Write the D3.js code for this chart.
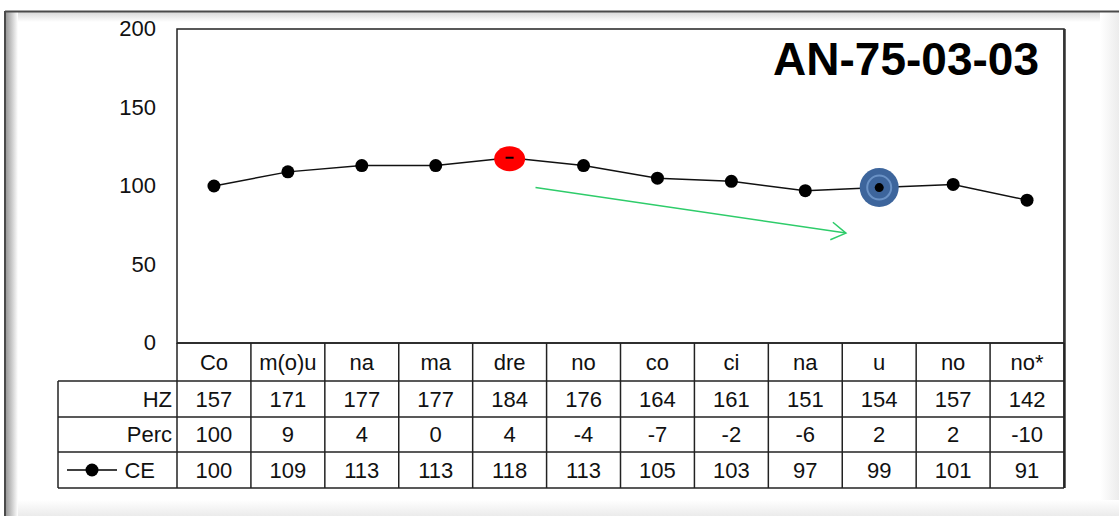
<!DOCTYPE html>
<html>
<head>
<meta charset="utf-8">
<script src="https://cdn.jsdelivr.net/npm/d3@7"></script>
<style>
    html, body { margin: 0; padding: 0; background: #fff; }
    svg { display: block; font-family: Arial, "Liberation Sans", sans-serif; }
</style>
</head>
<body>
<div id="chart"></div>
<script>
// data
const categories = ["Co", "m(o)u", "na", "ma", "dre", "no", "co", "ci", "na", "u", "no", "no*"];
const hzValues = [157, 171, 177, 177, 184, 176, 164, 161, 151, 154, 157, 142];
const percValues = [100, 9, 4, 0, 4, -4, -7, -2, -6, 2, 2, -10];
const ceValues = [100, 109, 113, 113, 118, 113, 105, 103, 97, 99, 101, 91];
const yTicks = [0, 50, 100, 150, 200];
const rowNames = ["HZ", "Perc", "CE"];
const chartTitle = "AN-75-03-03";
const highIndex = 4;   // red marker
const lowIndex = 9;    // blue marker
// arrow annotation, [category position, value]
const arrowFrom = [4.35, 99];
const arrowTo = [8.55, 70];

function init() {
    const w = 1119;
    const h = 516;

    const plotLeft = 177, plotRight = 1064, plotTop = 29, plotBottom = 343;
    const rowEdges = [343, 381, 417, 452, 488];
    const tableLeft = 58;

    const svg = d3.select("#chart")
        .append("svg")
        .attr("width", w)
        .attr("height", h);

    const defs = svg.append("defs");
    // shadowy frame round the whole thing
    const gLeft = defs.append("linearGradient").attr("id", "shadeLeft");
    gLeft.append("stop").attr("offset", "0%").attr("stop-color", "#9a9a9a");
    gLeft.append("stop").attr("offset", "100%").attr("stop-color", "#ffffff");
    const gTop = defs.append("linearGradient").attr("id", "shadeTop")
        .attr("x1", "0%").attr("x2", "0%").attr("y1", "0%").attr("y2", "100%");
    gTop.append("stop").attr("offset", "0%").attr("stop-color", "#d8d8d8");
    gTop.append("stop").attr("offset", "100%").attr("stop-color", "#ffffff");
    const gRight = defs.append("linearGradient").attr("id", "shadeRight");
    gRight.append("stop").attr("offset", "0%").attr("stop-color", "#ffffff");
    gRight.append("stop").attr("offset", "100%").attr("stop-color", "#ececec");
    const gBottom = defs.append("linearGradient").attr("id", "shadeBottom")
        .attr("x1", "0%").attr("x2", "0%").attr("y1", "0%").attr("y2", "100%");
    gBottom.append("stop").attr("offset", "0%").attr("stop-color", "#ffffff");
    gBottom.append("stop").attr("offset", "100%").attr("stop-color", "#ebebeb");

    svg.append("rect").attr("x", 6).attr("y", 12).attr("width", w).attr("height", 10)
        .attr("fill", "url(#shadeTop)");
    svg.append("rect").attr("x", 1100).attr("y", 12).attr("width", 19).attr("height", h)
        .attr("fill", "url(#shadeRight)");
    svg.append("rect").attr("x", 6).attr("y", 500).attr("width", w).attr("height", 16)
        .attr("fill", "url(#shadeBottom)");
    svg.append("rect").attr("x", 6).attr("y", 12).attr("width", 12).attr("height", h)
        .attr("fill", "url(#shadeLeft)");
    svg.append("line").attr("x1", 5).attr("x2", w).attr("y1", 11.5).attr("y2", 11.5)
        .attr("stroke", "#4a4a4a").attr("stroke-width", 2);
    svg.append("line").attr("x1", 5).attr("x2", 5).attr("y1", 11).attr("y2", h)
        .attr("stroke", "#4a4a4a").attr("stroke-width", 2);

    const x = d3.scaleBand()
        .domain(d3.range(categories.length))
        .range([plotLeft, plotRight]);

    const y = d3.scaleLinear()
        .domain([0, 200])
        .range([plotBottom, plotTop]);

    // continuous position along categories, for the arrow
    const xPos = i => x(0) + x.bandwidth() * (i + 0.5);

    // plot box
    svg.append("rect")
        .attr("x", plotLeft).attr("y", plotTop)
        .attr("width", plotRight - plotLeft).attr("height", plotBottom - plotTop)
        .attr("fill", "#fff")
        .attr("stroke", "#222").attr("stroke-width", 1.5);
    svg.append("line").attr("x1", plotRight + 0.5).attr("x2", plotRight + 0.5)
        .attr("y1", plotTop).attr("y2", rowEdges[4])
        .attr("stroke", "#333").attr("stroke-width", 2.5);

    // y tick labels
    const yAxis = d3.axisLeft(y).tickValues(yTicks).tickSize(0).tickPadding(0);
    const yG = svg.append("g")
        .attr("transform", "translate(156,0)")
        .call(yAxis);
    yG.select(".domain").remove();
    yG.selectAll("text")
        .attr("font-size", 22)
        .attr("font-family", "Arial, 'Liberation Sans', sans-serif")
        .attr("fill", "#111")
        .attr("dy", "0.3em");

    // title
    svg.append("text")
        .attr("x", 1039).attr("y", 75)
        .attr("text-anchor", "end")
        .attr("font-size", 46)
        .attr("font-weight", "bold")
        .attr("fill", "#000")
        .text(chartTitle);

    // line
    const line = d3.line()
        .x((d, i) => x(i) + x.bandwidth() / 2)
        .y(d => y(d));

    svg.append("path")
        .datum(ceValues)
        .attr("d", line)
        .attr("fill", "none")
        .attr("stroke", "#111")
        .attr("stroke-width", 1.5);

    svg.selectAll(".dot")
        .data(ceValues)
        .enter()
        .append("circle")
        .attr("class", "dot")
        .attr("cx", (d, i) => x(i) + x.bandwidth() / 2)
        .attr("cy", d => y(d))
        .attr("r", 6.5)
        .attr("fill", "#000");

    // red marker on the highest point
    const hx = x(highIndex) + x.bandwidth() / 2;
    const hy = y(ceValues[highIndex]);
    svg.append("ellipse")
        .attr("cx", hx).attr("cy", hy + 1)
        .attr("rx", 15.5).attr("ry", 12.5)
        .attr("fill", "#ff0000");
    svg.append("line")
        .attr("x1", hx - 4).attr("x2", hx + 4)
        .attr("y1", hy).attr("y2", hy)
        .attr("stroke", "#000").attr("stroke-width", 2);

    // blue marker
    const lx = x(lowIndex) + x.bandwidth() / 2;
    const ly = y(ceValues[lowIndex]);
    svg.append("circle").attr("cx", lx).attr("cy", ly).attr("r", 19.5).attr("fill", "#3d659c");
    svg.append("circle").attr("cx", lx).attr("cy", ly).attr("r", 12)
        .attr("fill", "none").attr("stroke", "#6a92c6").attr("stroke-width", 2);
    svg.append("circle").attr("cx", lx).attr("cy", ly).attr("r", 4.5).attr("fill", "#000");

    // green arrow
    const ax1 = xPos(arrowFrom[0]), ay1 = y(arrowFrom[1]);
    const ax2 = xPos(arrowTo[0]), ay2 = y(arrowTo[1]);
    const ang = Math.atan2(ay2 - ay1, ax2 - ax1);
    const head = 17, spread = 0.55;
    svg.append("line")
        .attr("x1", ax1).attr("y1", ay1).attr("x2", ax2).attr("y2", ay2)
        .attr("stroke", "#2ecc6a").attr("stroke-width", 1.5);
    svg.append("path")
        .attr("d", "M" + (ax2 - head * Math.cos(ang - spread)) + "," + (ay2 - head * Math.sin(ang - spread)) +
            "L" + ax2 + "," + ay2 +
            "L" + (ax2 - head * Math.cos(ang + spread)) + "," + (ay2 - head * Math.sin(ang + spread)))
        .attr("fill", "none")
        .attr("stroke", "#2ecc6a").attr("stroke-width", 1.5);

    // data table
    const table = svg.append("g");
    const rows = [hzValues, percValues, ceValues];

    // category row
    categories.forEach(function (c, i) {
        table.append("text")
            .attr("x", x(i) + x.bandwidth() / 2)
            .attr("y", (rowEdges[0] + rowEdges[1]) / 2)
            .attr("dy", "0.36em")
            .attr("text-anchor", "middle")
            .attr("font-size", 22)
            .attr("fill", "#111")
            .text(c);
    });

    rows.forEach(function (vals, r) {
        const cy = (rowEdges[r + 1] + rowEdges[r + 2]) / 2;
        table.append("text")
            .attr("x", r === 2 ? 155 : 172)
            .attr("y", cy)
            .attr("dy", "0.36em")
            .attr("text-anchor", "end")
            .attr("font-size", 22)
            .attr("fill", "#111")
            .text(rowNames[r]);
        vals.forEach(function (v, i) {
            table.append("text")
                .attr("x", x(i) + x.bandwidth() / 2)
                .attr("y", cy)
                .attr("dy", "0.36em")
                .attr("text-anchor", "middle")
                .attr("font-size", 22)
                .attr("fill", "#111")
                .text(v);
        });
    });

    // legend key in CE row
    const ky = (rowEdges[3] + rowEdges[4]) / 2;
    table.append("line").attr("x1", 67).attr("x2", 117).attr("y1", ky).attr("y2", ky)
        .attr("stroke", "#000").attr("stroke-width", 1.5);
    table.append("circle").attr("cx", 92).attr("cy", ky).attr("r", 6.5).attr("fill", "#000");

    // grid lines
    const gridColor = "#222";
    table.append("line").attr("x1", plotLeft).attr("x2", plotRight)
        .attr("y1", rowEdges[0]).attr("y2", rowEdges[0])
        .attr("stroke", gridColor).attr("stroke-width", 1.5);
    for (let r = 1; r < rowEdges.length; r++) {
        table.append("line").attr("x1", tableLeft).attr("x2", plotRight)
            .attr("y1", rowEdges[r]).attr("y2", rowEdges[r])
            .attr("stroke", gridColor).attr("stroke-width", 1.5);
    }
    table.append("line").attr("x1", tableLeft).attr("x2", tableLeft)
        .attr("y1", rowEdges[1]).attr("y2", rowEdges[4])
        .attr("stroke", gridColor).attr("stroke-width", 1.5);
    for (let i = 0; i <= categories.length; i++) {
        const cx = i < categories.length ? x(i) : plotRight;
        table.append("line").attr("x1", cx).attr("x2", cx)
            .attr("y1", rowEdges[0]).attr("y2", rowEdges[4])
            .attr("stroke", gridColor).attr("stroke-width", 1.5);
    }
}

window.addEventListener('load', init);
</script>
</body>
</html>
